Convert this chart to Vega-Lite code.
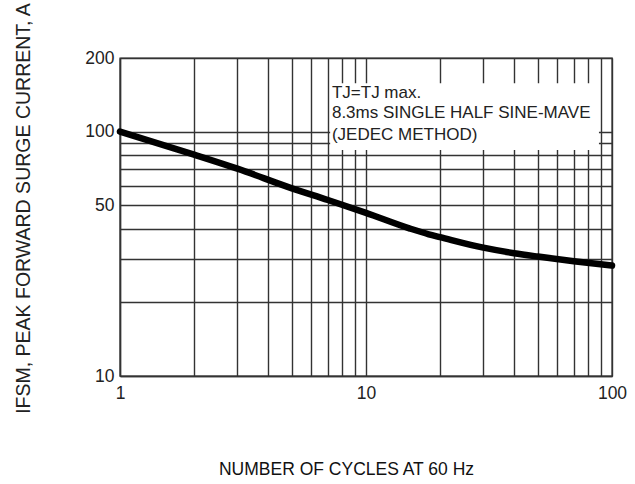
{
  "$schema": "https://vega.github.io/schema/vega-lite/v6.json",
  "autosize": {"type": "none"},
  "padding": {"left": 120, "top": 58, "right": 23, "bottom": 108},
  "width": 492,
  "height": 318,
  "background": "white",
  "config": {
    "view": {"stroke": "#333333", "strokeWidth": 1.4},
    "font": "Liberation Sans"
  },
  "encoding": {
    "x": {
      "field": "x", "type": "quantitative",
      "scale": {"type": "log", "domain": [1, 100], "nice": false},
      "axis": {
        "values": [1,2,3,4,5,6,7,8,9,10,20,30,40,50,60,70,80,90,100],
        "labelExpr": "indexof([1,10,100], datum.value) >= 0 ? format(datum.value, 'd') : ''",
        "grid": true, "gridColor": "#333333", "gridWidth": 1.4, "gridOpacity": 1,
        "ticks": false, "domainColor": "#333333", "domainWidth": 1.4,
        "labelFont": "Liberation Sans", "labelFontSize": 17.5, "labelColor": "#222222",
        "labelPadding": 8, "labelFlush": false, "labelOverlap": false,
        "title": "NUMBER OF CYCLES AT 60 Hz",
        "titleFont": "Liberation Sans", "titleFontSize": 17.5, "titleFontWeight": "normal",
        "titleColor": "#111111", "titleX": 226, "titleY": 93, "titleBaseline": "middle", "titleAlign": "center"
      }
    },
    "y": {
      "field": "y", "type": "quantitative",
      "scale": {"type": "log", "domain": [10, 200], "nice": false},
      "axis": {
        "values": [10,20,30,40,50,60,70,80,90,100,200],
        "labelExpr": "indexof([10,50,100,200], datum.value) >= 0 ? format(datum.value, 'd') : ''",
        "grid": true, "gridColor": "#333333", "gridWidth": 1.4, "gridOpacity": 1,
        "ticks": false, "domainColor": "#333333", "domainWidth": 1.4,
        "labelFont": "Liberation Sans", "labelFontSize": 17.5, "labelColor": "#222222",
        "labelPadding": 6, "labelFlush": false, "labelOverlap": false,
        "title": "IFSM, PEAK FORWARD SURGE CURRENT, A",
        "titleFont": "Liberation Sans", "titleFontSize": 19.5, "titleFontWeight": "normal",
        "titleColor": "#222222", "titleX": -97, "titleY": 150, "titleBaseline": "middle", "titleAlign": "center", "titleAngle": -90
      }
    }
  },
  "layer": [
    {
      "data": {"values": [{"x": 7.15, "xe": 88.5, "y": 84.1, "ye": 157.6}]},
      "mark": {"type": "rect", "fill": "white", "stroke": null},
      "encoding": {"x2": {"field": "xe"}, "y2": {"field": "ye"}}
    },
    {
      "data": {"values": [
        {"x": 1, "y": 100},
        {"x": 2, "y": 80.5},
        {"x": 3, "y": 70.5},
        {"x": 5, "y": 58.6},
        {"x": 7, "y": 52.5},
        {"x": 10, "y": 46.5},
        {"x": 15, "y": 40.2},
        {"x": 18, "y": 38},
        {"x": 20, "y": 37},
        {"x": 30, "y": 33.5},
        {"x": 40, "y": 31.8},
        {"x": 50, "y": 30.8},
        {"x": 70, "y": 29.5},
        {"x": 100, "y": 28.3}
      ]},
      "mark": {"type": "line", "color": "black", "strokeWidth": 6.5, "strokeCap": "round", "interpolate": "monotone"}
    },
    {
      "data": {"values": [
        {"x": 7.27, "y": 143.9, "label": "TJ=TJ max."},
        {"x": 7.27, "y": 119.2, "label": "8.3ms SINGLE HALF SINE-MAVE"},
        {"x": 7.27, "y": 96.9, "label": "(JEDEC METHOD)"}
      ]},
      "mark": {"type": "text", "align": "left", "baseline": "middle", "font": "Liberation Sans", "fontSize": 17, "color": "#222222"},
      "encoding": {"text": {"field": "label"}}
    }
  ]
}
